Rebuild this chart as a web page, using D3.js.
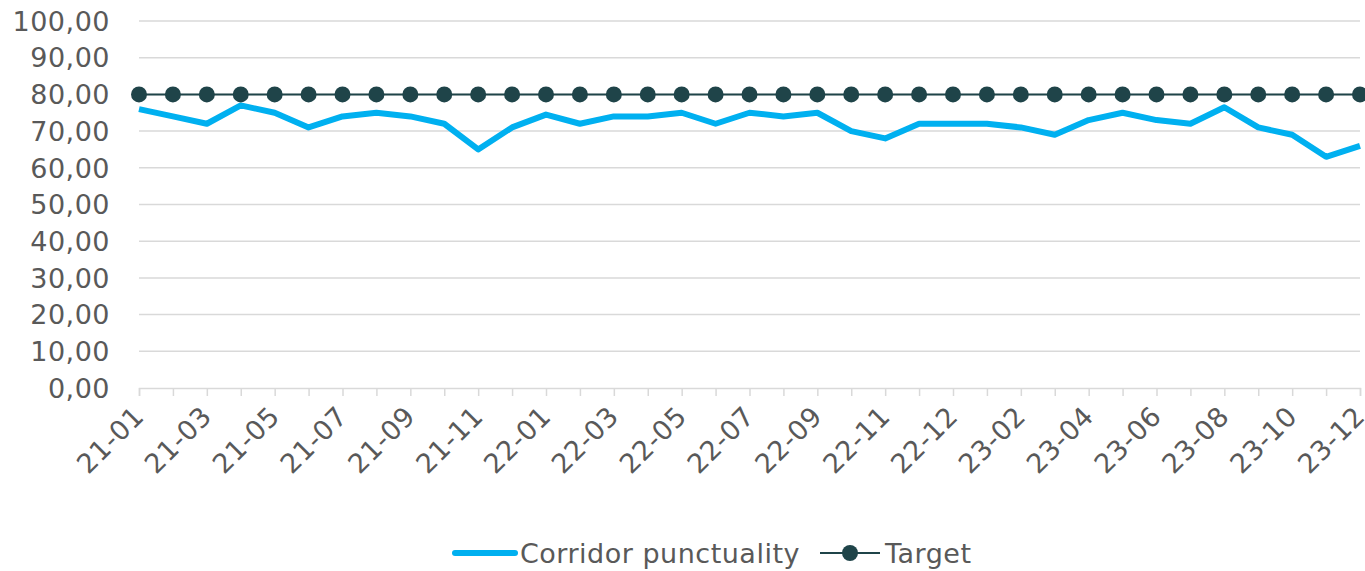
<!DOCTYPE html>
<html>
<head>
<meta charset="utf-8">
<script src="https://cdn.jsdelivr.net/npm/d3@7"></script>
<style>
  body { margin: 0; background: #fff; }
  text { font-family: 'DejaVu Sans', Verdana, sans-serif; letter-spacing: 0.5px; }
</style>
</head>
<body>
<script>
// month labels (one month appears twice in the source data, kept by index)
var months = ['21-01','21-02','21-03','21-04','21-05','21-06','21-07','21-08','21-09','21-10','21-11','21-12',
  '22-01','22-02','22-03','22-04','22-05','22-06','22-07','22-08','22-09','22-10','22-11','22-11',
  '22-12','23-01','23-02','23-03','23-04','23-05','23-06','23-07','23-08','23-09','23-10','23-11','23-12'];
var punctuality = [76, 74, 72, 77, 75, 71, 74, 75, 74, 72, 65, 71,
  74.5, 72, 74, 74, 75, 72, 75, 74, 75, 70, 68, 72,
  72, 72, 71, 69, 73, 75, 73, 72, 76.5, 71, 69, 63, 66];
var target = months.map(function() { return 80; });
var yTicks = [0, 10, 20, 30, 40, 50, 60, 70, 80, 90, 100];

var width = 1365, height = 571;
var margin = { left: 139, right: 5, top: 21, bottom: 183 };

var svg = d3.select('body').append('svg')
  .attr('width', width)
  .attr('height', height);

var x = d3.scaleLinear()
  .domain([0, months.length - 1])
  .range([margin.left, width - margin.right]);

var y = d3.scaleLinear()
  .domain([0, 100])
  .range([height - margin.bottom, margin.top]);

// gridlines
svg.append('g')
  .selectAll('line')
  .data(yTicks.slice(1))
  .enter().append('line')
  .attr('x1', margin.left)
  .attr('x2', width - margin.right)
  .attr('y1', function(d) { return y(d); })
  .attr('y2', function(d) { return y(d); })
  .style('stroke', '#d9d9d9')
  .style('stroke-width', 1.5);

// y labels
svg.append('g')
  .selectAll('text')
  .data(yTicks)
  .enter().append('text')
  .attr('x', 110)
  .attr('y', function(d) { return y(d); })
  .attr('dy', '0.36em')
  .style('text-anchor', 'end')
  .style('font-size', '27px')
  .style('fill', '#595959')
  .text(function(d) { return d3.format('.2f')(d).replace('.', ','); });

// x axis
var xAxis = d3.axisBottom(x)
  .tickValues(d3.range(months.length))
  .tickSize(8)
  .tickFormat(function(i) { return i % 2 === 0 ? months[i] : ''; });

var gx = svg.append('g')
  .attr('transform', 'translate(0,' + y(0) + ')')
  .call(xAxis);

gx.select('.domain').style('stroke', '#d9d9d9').style('stroke-width', 1.5);
gx.selectAll('.tick line').style('stroke', '#d9d9d9').style('stroke-width', 1.5);
gx.selectAll('.tick text')
  .attr('x', 0)
  .attr('y', 0)
  .attr('dy', 0)
  .attr('transform', 'translate(6,30) rotate(-45)')
  .style('text-anchor', 'end')
  .style('font-size', '27px')
  .style('font-family', "'DejaVu Sans', Verdana, sans-serif")
  .style('fill', '#595959');

// punctuality line
var line = d3.line()
  .x(function(d, i) { return x(i); })
  .y(function(d) { return y(d); });

svg.append('path')
  .datum(punctuality)
  .attr('d', line)
  .style('fill', 'none')
  .style('stroke', '#00b0f0')
  .style('stroke-width', 6)
  .style('stroke-linejoin', 'round');

// target line
svg.append('path')
  .datum(target)
  .attr('d', line)
  .style('fill', 'none')
  .style('stroke', '#1f4449')
  .style('stroke-width', 2);

svg.append('g')
  .selectAll('circle')
  .data(target)
  .enter().append('circle')
  .attr('cx', function(d, i) { return x(i); })
  .attr('cy', function(d) { return y(d); })
  .attr('r', 8)
  .style('fill', '#1f4449');

// legend
var legend = svg.append('g').attr('transform', 'translate(0,553)');
legend.append('line')
  .attr('x1', 455).attr('x2', 515).attr('y1', 0).attr('y2', 0)
  .style('stroke', '#00b0f0').style('stroke-width', 6).style('stroke-linecap', 'round');
legend.append('text')
  .attr('x', 520).attr('dy', '0.36em')
  .style('font-size', '27px').style('fill', '#595959')
  .text('Corridor punctuality');
legend.append('line')
  .attr('x1', 820).attr('x2', 880).attr('y1', 0).attr('y2', 0)
  .style('stroke', '#1f4449').style('stroke-width', 2);
legend.append('circle')
  .attr('cx', 850).attr('cy', 0).attr('r', 8)
  .style('fill', '#1f4449');
legend.append('text')
  .attr('x', 885).attr('dy', '0.36em')
  .style('font-size', '27px').style('fill', '#595959')
  .text('Target');
</script>
</body>
</html>
